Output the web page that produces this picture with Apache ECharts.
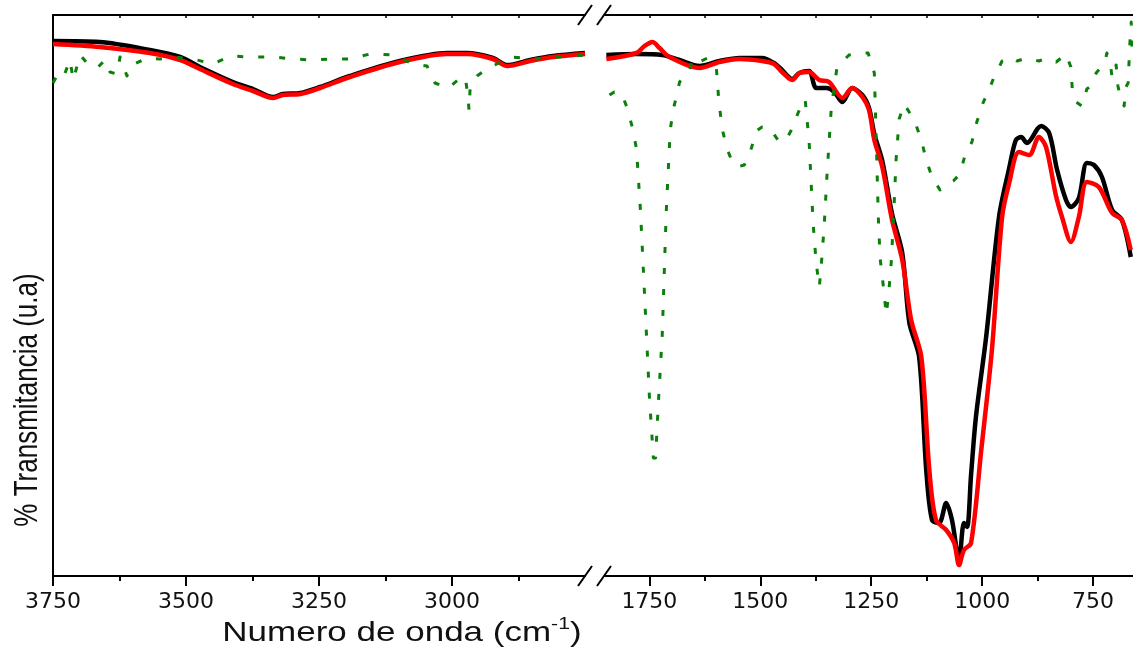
<!DOCTYPE html>
<html>
<head>
<meta charset="utf-8">
<script src="https://cdn.jsdelivr.net/npm/echarts@6/dist/echarts.min.js"></script>
<style>html,body{margin:0;padding:0;background:#fff;}#chart{width:1133px;height:651px;}</style>
</head>
<body>
<div id="chart"></div>
<script>
// ---- Data (wavenumber in cm-1, transmittance in arbitrary units) ----
const leftWn = [3750,3662,3568,3511,3474,3412,3374,3336,3318,3285,3248,3192,3098,3009,2972,2923,2896,2853,2810,2750];
const blackLeft = [535,534,526,519,509,494,487,479,482,483,489,500,515,523,523,518,511,516,520,523];
const redLeft   = [532,529,523,516,507,492,485,478,481,482,488,499,514,522,522,517,510,515,519,522];

const blackRightWn = [1847,1779,1721,1682,1637,1592,1547,1496,1469,1451,1428,1412,1390,1374,1351,1333,1315,1293,1270,1255,1243,1225,1203,1180,1164,1142,1126,1113,1097,1081,1068,1052,1041,1034,1025,1014,991,962,939,924,912,899,867,849,831,811,800,782,764,748,730,707,685,665];
const blackRight = [521,522,521,516,510,515,518,518,513,506,497,503,505,488,488,484,474,488,481,468,442,415,362,323,253,219,106,56,53,73,56,16,53,49,101,159,239,359,408,436,439,433,450,443,406,376,369,378,413,411,399,366,356,319];

const redRightWn = [1847,1779,1761,1743,1727,1705,1637,1592,1547,1496,1469,1451,1428,1412,1390,1367,1345,1315,1293,1270,1255,1243,1225,1203,1180,1160,1137,1119,1104,1081,1063,1052,1041,1025,1002,978,955,939,917,894,872,856,834,820,800,782,764,737,707,685,665];
const redRight = [517,523,530,534,528,519,508,514,517,515,512,504,496,503,504,496,494,478,488,479,466,436,409,356,316,256,219,106,56,46,33,11,26,33,126,226,359,393,424,421,439,429,381,359,334,359,394,389,363,356,326];

const greenLeftWn = [3750,3742,3731,3718,3712,3699,3686,3667,3652,3643,3630,3624,3611,3605,3573,3549,3524,3487,3449,3417,3380,3336,3299,3261,3229,3192,3154,3111,3073,3047,3032,3007,2989,2975,2970,2968,2966,2953,2932,2887,2844,2797,2750];
const greenLeft = [493,501,498,516,496,521,513,508,516,504,502,519,500,510,518,517,519,517,512,520,519,519,517,516,517,517,522,521,512,510,493,488,496,499,479,466,487,500,508,519,517,519,521];

const greenRightWn = [1840,1829,1813,1800,1788,1779,1770,1761,1750,1741,1736,1730,1721,1712,1703,1696,1687,1682,1660,1653,1633,1619,1599,1594,1586,1574,1563,1552,1536,1520,1509,1496,1484,1473,1457,1441,1430,1414,1399,1390,1381,1374,1367,1363,1356,1349,1340,1327,1300,1277,1257,1243,1239,1234,1230,1223,1216,1210,1205,1200,1194,1187,1176,1153,1137,1126,1113,1095,1079,1065,1050,1038,1023,1012,998,984,973,955,935,921,901,872,854,833,811,800,797,788,775,764,752,743,732,723,719,712,707,698,694,687,680,676,671,669,667,664,662];
const greenRight = [481,484,483,468,448,427,365,283,180,118,118,171,241,364,446,467,483,494,504,518,515,518,508,478,447,426,414,409,411,428,445,449,449,444,434,437,446,464,477,435,353,313,289,308,350,406,468,509,521,523,523,503,441,359,318,291,261,286,313,355,416,457,472,456,436,416,399,386,392,395,402,422,434,454,473,487,499,515,519,515,518,515,518,514,522,509,488,474,470,487,491,503,509,513,523,516,498,511,490,477,470,489,493,513,533,554,527];

const leftMajor = [3750,3500,3250,3000];
const leftMinor = [3625,3375,3125,2875];
const leftTop = [3750,3625,3500,3375,3250,3125,3000,2875];
const rightMajor = [1750,1500,1250,1000,750];
const rightMinor = [1625,1375,1125,875];
const rightTop = [1750,1625,1500,1375,1250,1125,1000,875,750];

const xTitle = 'Numero de onda (cm';
const yTitle = '% Transmitancia (u.a)';

// ---- Build ----
function pairs(xs, ys){ return xs.map((x,i)=>[x, ys[i]]); }

function axesFor(grid, min, max, major, minor, top){
  const base = {type:'value', gridIndex:grid, min:min, max:max, inverse:true, splitLine:{show:false}};
  return [
    Object.assign({}, base, {
      position:'bottom',
      axisLine:{show:true, onZero:false, lineStyle:{color:'#000', width:2}},
      axisTick:{show:true, customValues:major, length:10, lineStyle:{color:'#000', width:2}},
      axisLabel:{show:true, customValues:major, formatter:function(v){return String(v);},
        fontFamily:'DejaVu Sans', fontSize:22, color:'#111', margin:15}
    }),
    Object.assign({}, base, {
      position:'bottom',
      axisLine:{show:false, onZero:false},
      axisTick:{show:true, customValues:minor, length:5, lineStyle:{color:'#000', width:2}},
      axisLabel:{show:false}
    }),
    Object.assign({}, base, {
      position:'top',
      axisLine:{show:true, onZero:false, lineStyle:{color:'#000', width:2}},
      axisTick:{show:true, inside:true, customValues:top, length:3, lineStyle:{color:'#000', width:1.5}},
      axisLabel:{show:false}
    })
  ];
}

const yBase = {type:'value', min:0, max:561, axisTick:{show:false}, axisLabel:{show:false}, splitLine:{show:false}};

function lineSeries(xi, yi, data, color, width, z, dashed){
  return {
    type:'line', xAxisIndex:xi, yAxisIndex:yi, data:data, symbol:'none', showSymbol:false,
    smooth: dashed ? false : 0.3, z:z,
    lineStyle:{color:color, width:width, type: dashed ? [6,15] : 'solid', cap:'butt', join:'round'}
  };
}

const option = {
  animation:false,
  backgroundColor:'#fff',
  grid:[
    {left:53, top:15, width:532, bottom:75, containLabel:false},
    {left:605, top:15, right:0, bottom:75, containLabel:false}
  ],
  xAxis: axesFor(0, 2750, 3750, leftMajor, leftMinor, leftTop).concat(axesFor(1, 660, 1850, rightMajor, rightMinor, rightTop)),
  yAxis:[
    Object.assign({}, yBase, {gridIndex:0, axisLine:{show:true, onZero:false, lineStyle:{color:'#000', width:2}}}),
    Object.assign({}, yBase, {gridIndex:1, axisLine:{show:false}})
  ],
  series:[
    lineSeries(0,0,pairs(leftWn, blackLeft), '#000000', 4.5, 2, false),
    lineSeries(0,0,pairs(leftWn, redLeft), '#ff0000', 4.5, 3, false),
    lineSeries(0,0,pairs(greenLeftWn, greenLeft), '#0a800a', 3, 4, true),
    lineSeries(3,1,pairs(blackRightWn, blackRight), '#000000', 4.5, 2, false),
    lineSeries(3,1,pairs(redRightWn, redRight), '#ff0000', 4.5, 3, false),
    lineSeries(3,1,pairs(greenRightWn, greenRight), '#0a800a', 3, 4, true)
  ],
  graphic:[
    {type:'line', shape:{x1:578,y1:586,x2:592,y2:566}, style:{stroke:'#000', lineWidth:2}, z:100},
    {type:'line', shape:{x1:597,y1:586,x2:611,y2:566}, style:{stroke:'#000', lineWidth:2}, z:100},
    {type:'line', shape:{x1:578,y1:25,x2:592,y2:5}, style:{stroke:'#000', lineWidth:2}, z:100},
    {type:'line', shape:{x1:597,y1:25,x2:611,y2:5}, style:{stroke:'#000', lineWidth:2}, z:100},
    {type:'text', x:28, y:400, rotation:Math.PI/2, scaleY:1.3, z:100,
      style:{text:yTitle, fontFamily:'Liberation Sans', fontSize:26, fill:'#111', align:'center', verticalAlign:'middle'}},
    {type:'text', x:402, y:633, scaleX:1.25, z:100,
      style:{text:'{a|' + xTitle + '}{b|-1}{a|)}', fill:'#111', align:'center', verticalAlign:'middle',
        rich:{
          a:{fontFamily:'Liberation Sans', fontSize:28, fill:'#111', lineHeight:34},
          b:{fontFamily:'Liberation Sans', fontSize:17, fill:'#111', verticalAlign:'top', lineHeight:34}
        }}}
  ]
};

const chart = echarts.init(document.getElementById('chart'), null, {renderer:'canvas'});
chart.setOption(option);
</script>
</body>
</html>
